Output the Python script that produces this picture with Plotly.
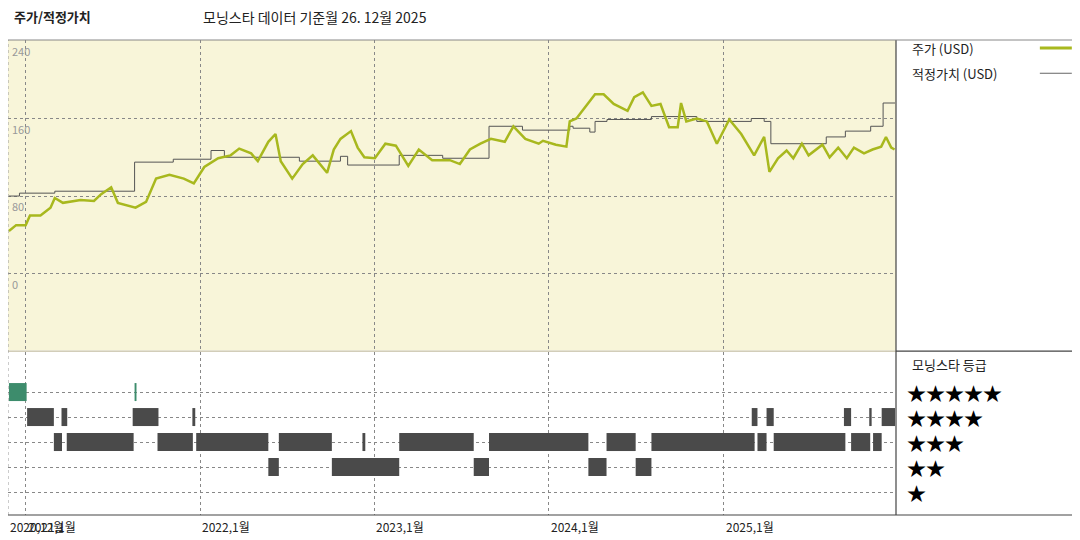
import plotly.graph_objects as go

# price (USD)
price_dates = [
    "2020-11-27", "2020-12-12", "2021-01-01", "2021-01-10", "2021-02-01", "2021-02-22", "2021-03-03",
    "2021-03-20", "2021-04-26", "2021-05-24", "2021-06-08", "2021-06-29", "2021-07-13", "2021-08-19",
    "2021-09-10", "2021-10-01", "2021-10-29", "2021-11-28", "2021-12-19", "2022-01-10", "2022-02-08",
    "2022-03-06", "2022-03-24", "2022-04-18", "2022-05-02", "2022-05-24", "2022-06-08", "2022-06-19",
    "2022-07-13", "2022-08-04", "2022-08-25", "2022-09-24", "2022-10-08", "2022-10-22", "2022-11-13",
    "2022-11-27", "2022-12-11", "2023-01-02", "2023-01-24", "2023-02-15", "2023-03-13", "2023-04-04",
    "2023-05-02", "2023-06-08", "2023-06-29", "2023-07-20", "2023-08-11", "2023-09-02", "2023-10-01",
    "2023-10-19", "2023-11-13", "2023-12-11", "2023-12-20", "2024-01-16", "2024-02-07", "2024-02-14",
    "2024-02-28", "2024-03-20", "2024-04-07", "2024-04-25", "2024-05-16", "2024-06-14", "2024-06-28",
    "2024-07-16", "2024-08-03", "2024-08-22", "2024-09-09", "2024-09-27", "2024-10-04", "2024-10-15",
    "2024-11-06", "2024-11-27", "2024-12-18", "2025-01-13", "2025-02-07", "2025-03-06", "2025-03-27",
    "2025-04-07", "2025-04-25", "2025-05-13", "2025-05-27", "2025-06-14", "2025-06-28", "2025-07-27",
    "2025-08-11", "2025-08-29", "2025-09-16", "2025-10-01", "2025-10-22", "2025-11-09", "2025-11-27",
    "2025-12-07", "2025-12-18", "2025-12-25",
]
price = [
    44, 50, 50, 60, 60, 68, 78,
    73, 76, 75, 82, 89, 73, 68,
    74, 98, 102, 98, 93, 110, 119,
    122, 129, 124, 116, 136, 144, 116,
    98, 113, 122, 104, 128, 139, 147,
    130, 120, 119, 134, 132, 111, 128,
    117, 117, 113, 128, 134, 139, 136,
    152, 139, 134, 137, 133, 131, 157,
    160, 173, 185, 185, 175, 168, 182,
    187, 173, 175, 151, 151, 176, 157,
    160, 157, 134, 159, 144, 122, 141,
    105, 119, 127, 119, 134, 122, 133,
    120, 130, 119, 130, 124, 128, 131,
    141, 130, 128,
]

# fair value (USD), step line
fv_dates = [
    "2020-11-27", "2020-12-19", "2021-03-03", "2021-08-17", "2021-11-06", "2022-01-24", "2022-02-21",
    "2022-07-28", "2022-10-22", "2022-11-06", "2023-02-22", "2023-05-24", "2023-08-29", "2023-11-07",
    "2024-02-14", "2024-02-21", "2024-03-27", "2024-04-07", "2024-05-02", "2024-08-03", "2024-11-06",
    "2025-02-28", "2025-03-27", "2025-04-10", "2025-08-04", "2025-09-13", "2025-11-05", "2025-12-01",
    "2025-12-26",
]
fair_value = [
    80, 83, 85, 115, 118, 127, 120,
    116, 121, 112, 122, 119, 152, 148,
    152, 150, 146, 157, 159, 162, 157,
    160, 157, 134, 141, 147, 152, 176,
    176,
]

# star rating periods
rating_start = [
    "2020-11-27", "2021-08-17",
    "2021-01-04", "2021-03-17", "2021-08-13", "2021-12-16", "2025-03-01", "2025-04-01", "2025-09-10",
    "2025-11-02", "2025-11-28",
    "2021-03-01", "2021-03-28", "2021-10-04", "2021-12-24", "2022-06-15", "2022-12-07", "2023-02-22",
    "2023-08-29", "2024-05-01", "2024-08-03", "2025-03-13", "2025-04-16", "2025-09-25", "2025-11-10",
    "2022-05-24", "2022-10-04", "2023-07-28", "2024-03-24", "2024-07-01",
]
rating_end = [
    "2021-01-03", "2021-08-21",
    "2021-03-01", "2021-03-29", "2021-10-06", "2021-12-22", "2025-03-13", "2025-04-16", "2025-09-25",
    "2025-11-07", "2025-12-26",
    "2021-03-18", "2021-08-15", "2021-12-17", "2022-05-24", "2022-10-04", "2022-12-13", "2023-07-28",
    "2024-03-24", "2024-07-01", "2025-03-07", "2025-04-01", "2025-09-13", "2025-11-04", "2025-11-28",
    "2022-06-15", "2023-02-22", "2023-08-29", "2024-05-01", "2024-08-03",
]
rating_value = [5, 5] + [4] * 9 + [3] * 14 + [2] * 5

year_ticks = ["2021-01-01", "2022-01-01", "2023-01-01", "2024-01-01", "2025-01-01"]
year_labels = ["2021,1월", "2022,1월", "2023,1월", "2024,1월", "2025,1월"]
price_ticks = [0, 80, 160, 240]
star_labels = ["★", "★★", "★★★", "★★★★", "★★★★★"]

FONT = "Noto Sans CJK KR"
x_range = ["2020-11-25", "2025-12-28"]
RX = 1072 / 888  # right edge of the figure in paper units

fig = go.Figure()

fig.add_trace(go.Scatter(x=fv_dates, y=fair_value, mode="lines", line=dict(color="#555555", width=1, shape="hv"),
                         xaxis="x", yaxis="y", hoverinfo="skip"))
fig.add_trace(go.Scatter(x=price_dates, y=price, mode="lines", line=dict(color="#a8b81e", width=2.5),
                         xaxis="x", yaxis="y"))

# rating bars
for s, e, r in zip(rating_start, rating_end, rating_value):
    fig.add_trace(go.Scatter(x=[s, e], y=[r, r], mode="lines",
                             line=dict(color="#3d8c6c" if r == 5 else "#4a4a4a", width=18),
                             xaxis="x2", yaxis="y2", hoverinfo="skip"))

grid = dict(showgrid=True, gridcolor="#888888", griddash="dot", gridwidth=1)
fig.update_layout(
    width=1072, height=532, showlegend=False,
    paper_bgcolor="white",
    margin=dict(l=0, r=184, t=32, b=25),
    font=dict(family=FONT, size=12, color="#222"),
    xaxis=dict(domain=[0, 1], range=x_range, type="date", tickvals=year_ticks, showticklabels=False,
               anchor="y", zeroline=False, **grid),
    yaxis=dict(domain=[0.347, 1], range=[-79, 241], tickvals=price_ticks, showticklabels=False,
               zeroline=False, **grid),
    xaxis2=dict(domain=[0, 1], range=x_range, type="date", tickvals=year_ticks, showticklabels=False,
                anchor="y2", zeroline=False, **grid),
    yaxis2=dict(domain=[0, 0.343], range=[0.08, 6.6], tickvals=[1, 2, 3, 4, 5], showticklabels=False,
                zeroline=False, **grid),
    plot_bgcolor="white",
)

shapes = [
    dict(type="rect", xref="paper", yref="paper", x0=0, x1=1, y0=0.347, y1=1,
         fillcolor="#f8f5d9", line_width=0, layer="below"),
    dict(type="line", xref="paper", yref="paper", x0=0, x1=1, y0=0.345, y1=0.345,
         line=dict(color="#b8b090", width=1)),
    dict(type="line", xref="paper", yref="paper", x0=0, x1=0, y0=0, y1=1,
         line=dict(color="#999", width=1, dash="dot")),
    dict(type="line", xref="paper", yref="paper", x0=1, x1=1, y0=0, y1=1,
         line=dict(color="#444", width=1.2)),
    dict(type="line", xref="paper", yref="paper", x0=0, x1=RX, y0=1, y1=1,
         line=dict(color="#888", width=1)),
    dict(type="line", xref="paper", yref="paper", x0=0, x1=RX, y0=0, y1=0,
         line=dict(color="#444", width=1.2)),
    dict(type="line", xref="paper", yref="paper", x0=1, x1=RX, y0=0.345, y1=0.345,
         line=dict(color="#444", width=1.2)),
    # legend samples
    dict(type="line", xref="paper", yref="paper", x0=1.162, x1=1.198, y0=0.983, y1=0.983,
         line=dict(color="#a8b81e", width=3)),
    dict(type="line", xref="paper", yref="paper", x0=1.162, x1=1.198, y0=0.93, y1=0.93,
         line=dict(color="#666", width=1)),
]
fig.update_layout(shapes=shapes)

ann = [
    dict(x=0.004, y=1.05, xref="paper", yref="paper", text="<b>주가/적정가치</b>", showarrow=False,
         xanchor="left", yanchor="middle", font=dict(size=13)),
    dict(x=0.217, y=1.048, xref="paper", yref="paper", text="모닝스타 데이터 기준월 26. 12월 2025",
         showarrow=False, xanchor="left", yanchor="middle", font=dict(size=14)),
    dict(x=1.016, y=0.983, xref="paper", yref="paper", text="주가 (USD)", showarrow=False,
         xanchor="left", yanchor="middle", font=dict(size=13)),
    dict(x=1.016, y=0.93, xref="paper", yref="paper", text="적정가치 (USD)", showarrow=False,
         xanchor="left", yanchor="middle", font=dict(size=13)),
    dict(x=1.016, y=0.317, xref="paper", yref="paper", text="모닝스타 등급", showarrow=False,
         xanchor="left", yanchor="middle", font=dict(size=13)),
    dict(x=x_range[0], y=-0.003, xref="x2", yref="paper", text="2020,12월", showarrow=False,
         xanchor="left", yanchor="top", font=dict(size=12)),
]
for v in price_ticks:
    ann.append(dict(x=0.002, y=v, xref="paper", yref="y", text=str(v), showarrow=False,
                    xanchor="left", yanchor="top", font=dict(size=11, color="#999")))
for t, lab in zip(year_ticks, year_labels):
    ann.append(dict(x=t, y=-0.003, xref="x2", yref="paper", text=lab, showarrow=False,
                    xanchor="left", yanchor="top", font=dict(size=12)))
for i, lab in enumerate(star_labels):
    ann.append(dict(x=1.01, y=i + 1, xref="paper", yref="y2", text=lab, showarrow=False,
                    xanchor="left", yanchor="middle", font=dict(size=19, color="black")))
fig.update_layout(annotations=ann)

fig.write_html("out.html")
